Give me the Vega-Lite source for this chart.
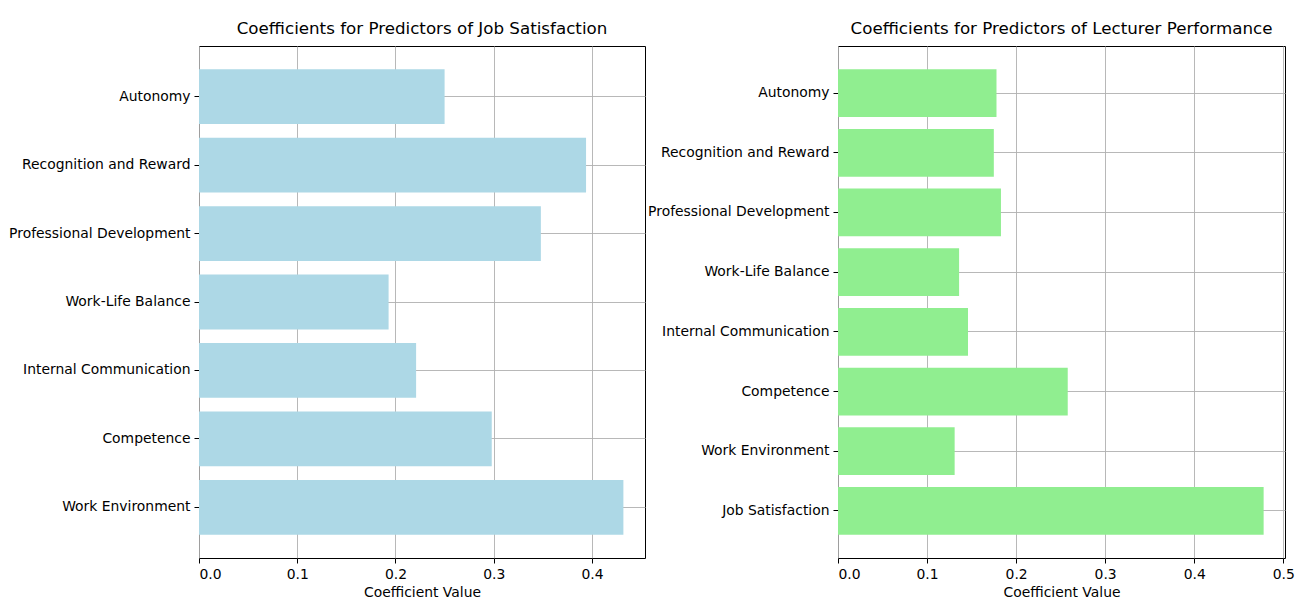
{
  "$schema": "https://vega.github.io/schema/vega-lite/v6.json",
  "background": "white",
  "padding": {"left": 8, "top": 20, "right": 5, "bottom": 5},
  "datasets": {
    "job": [
      {"predictor": "Autonomy", "coef": 0.250},
      {"predictor": "Recognition and Reward", "coef": 0.394},
      {"predictor": "Professional Development", "coef": 0.348},
      {"predictor": "Work-Life Balance", "coef": 0.193},
      {"predictor": "Internal Communication", "coef": 0.221},
      {"predictor": "Competence", "coef": 0.298},
      {"predictor": "Work Environment", "coef": 0.432}
    ],
    "perf": [
      {"predictor": "Autonomy", "coef": 0.178},
      {"predictor": "Recognition and Reward", "coef": 0.175},
      {"predictor": "Professional Development", "coef": 0.183},
      {"predictor": "Work-Life Balance", "coef": 0.136},
      {"predictor": "Internal Communication", "coef": 0.146},
      {"predictor": "Competence", "coef": 0.258},
      {"predictor": "Work Environment", "coef": 0.131},
      {"predictor": "Job Satisfaction", "coef": 0.478}
    ]
  },
  "config": {
    "font": "DejaVu Sans",
    "view": {"stroke": "#000000", "strokeWidth": 1},
    "concat": {"spacing": 193},
    "axis": {
      "labelFont": "DejaVu Sans",
      "labelFontSize": 13.9,
      "labelColor": "#000000",
      "labelLimit": 400,
      "titleFont": "DejaVu Sans",
      "titleFontSize": 13.9,
      "titleFontWeight": "normal",
      "titleColor": "#000000",
      "domainColor": "#000000",
      "tickColor": "#000000",
      "tickSize": 5,
      "labelPadding": 4,
      "gridColor": "#b0b0b0",
      "gridWidth": 0.9,
      "zindex": 1
    },
    "title": {
      "font": "DejaVu Sans",
      "fontSize": 16.7,
      "fontWeight": "normal",
      "color": "#000000",
      "offset": 8,
      "frame": "group",
      "anchor": "middle"
    }
  },
  "bounds": "flush",
  "hconcat": [
    {
      "width": 446,
      "height": 512,
      "title": "Coefficients for Predictors of Job Satisfaction",
      "data": {"name": "job"},
      "mark": {"type": "bar", "color": "#ADD8E6"},
      "encoding": {
        "y": {
          "field": "predictor",
          "type": "nominal",
          "sort": null,
          "scale": {"paddingInner": 0.2, "paddingOuter": 0.34},
          "axis": {"title": null, "grid": true, "bandPosition": 0.5, "domain": false}
        },
        "x": {
          "field": "coef",
          "type": "quantitative",
          "scale": {"domain": [0, 0.454], "nice": false, "zero": true},
          "axis": {"title": "Coefficient Value", "values": [0, 0.1, 0.2, 0.3, 0.4], "format": ".1f", "grid": true, "titlePadding": 5, "domain": false}
        }
      }
    },
    {
      "width": 447,
      "height": 512,
      "title": "Coefficients for Predictors of Lecturer Performance",
      "data": {"name": "perf"},
      "mark": {"type": "bar", "color": "#90EE90"},
      "encoding": {
        "y": {
          "field": "predictor",
          "type": "nominal",
          "sort": null,
          "scale": {"paddingInner": 0.2, "paddingOuter": 0.39},
          "axis": {"title": null, "grid": true, "bandPosition": 0.5, "domain": false}
        },
        "x": {
          "field": "coef",
          "type": "quantitative",
          "scale": {"domain": [0, 0.502], "nice": false, "zero": true},
          "axis": {"title": "Coefficient Value", "values": [0, 0.1, 0.2, 0.3, 0.4, 0.5], "format": ".1f", "grid": true, "titlePadding": 5, "domain": false}
        }
      }
    }
  ]
}
